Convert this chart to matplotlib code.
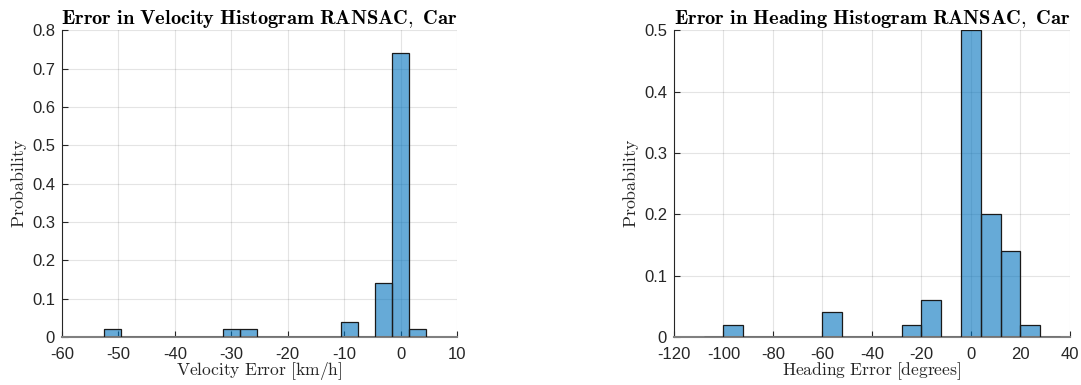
import numpy as np
import matplotlib.pyplot as plt

plt.rcParams['mathtext.fontset'] = 'cm'
plt.rcParams['font.family'] = ['Liberation Sans', 'DejaVu Sans']

# velocity histogram (bin width 3 km/h)
vel_start = -52.5
vel_width = 3.0
vel_prob = [0.02, 0, 0, 0, 0, 0, 0, 0.02, 0.02, 0, 0, 0, 0, 0, 0.04, 0, 0.14, 0.74, 0.02]
vel_xticks = [-60, -50, -40, -30, -20, -10, 0, 10]
vel_yticks = [0, 0.1, 0.2, 0.3, 0.4, 0.5, 0.6, 0.7, 0.8]

# heading histogram (bin width 8 deg)
head_start = -108
head_width = 8.0
head_prob = [0, 0.02, 0, 0, 0, 0, 0.04, 0, 0, 0, 0.02, 0.06, 0, 0.5, 0.2, 0.14, 0.02, 0]
head_xticks = [-120, -100, -80, -60, -40, -20, 0, 20, 40]
head_yticks = [0, 0.1, 0.2, 0.3, 0.4, 0.5]

face = (0.0, 0.447, 0.741)

fig = plt.figure(figsize=(10.81, 3.85), dpi=100)
ax1 = fig.add_axes([0.0574, 0.1247, 0.3654, 0.797])
ax2 = fig.add_axes([0.6235, 0.1247, 0.3663, 0.797])


def draw(ax, start, width, prob, xticks, yticks, title, xlabel):
    edges = start + width * np.arange(len(prob) + 1)
    ax.set_axisbelow(True)
    ax.grid(True, color='#262626', alpha=0.12, linewidth=0.8)
    ax.bar(edges[:-1], prob, width=width, align='edge', color=face, alpha=0.6,
           edgecolor='none', zorder=2)
    ax.bar(edges[:-1], prob, width=width, align='edge', fill=False,
           edgecolor='#1a1a1a', linewidth=0.9, zorder=3)
    ax.set_xlim(xticks[0], xticks[-1])
    ax.set_ylim(yticks[0], yticks[-1])
    ax.set_xticks(xticks)
    ax.set_yticks(yticks)
    ax.set_xticklabels([str(t) for t in xticks])
    ax.set_yticklabels(['0' if t == 0 else ('%.1f' % t) for t in yticks])
    for s in ['top', 'right']:
        ax.spines[s].set_visible(False)
    ax.spines['left'].set_color('#262626')
    ax.spines['bottom'].set_color('#808080')
    ax.spines['bottom'].set_linewidth(1.5)
    ax.tick_params(direction='in', length=4, labelsize=12, colors='#262626')
    ax.tick_params(axis='x', pad=7)
    ax.tick_params(axis='y', pad=5)
    ax.set_title(title, fontsize=14.7, pad=3)
    ax.set_xlabel(xlabel, fontsize=12.6, color='#262626', labelpad=-1)
    ax.set_ylabel(r'$\mathrm{Probability}$', fontsize=12.8, color='#262626', labelpad=2)


draw(ax1, vel_start, vel_width, vel_prob, vel_xticks, vel_yticks,
     r'$\mathbf{Error\ in\ Velocity\ Histogram\ RANSAC,\ Car}$',
     r'$\mathrm{Velocity\ Error\ [km/h]}$')
draw(ax2, head_start, head_width, head_prob, head_xticks, head_yticks,
     r'$\mathbf{Error\ in\ Heading\ Histogram\ RANSAC,\ Car}$',
     r'$\mathrm{Heading\ Error\ [degrees]}$')

fig.savefig('out.png', dpi=100)
